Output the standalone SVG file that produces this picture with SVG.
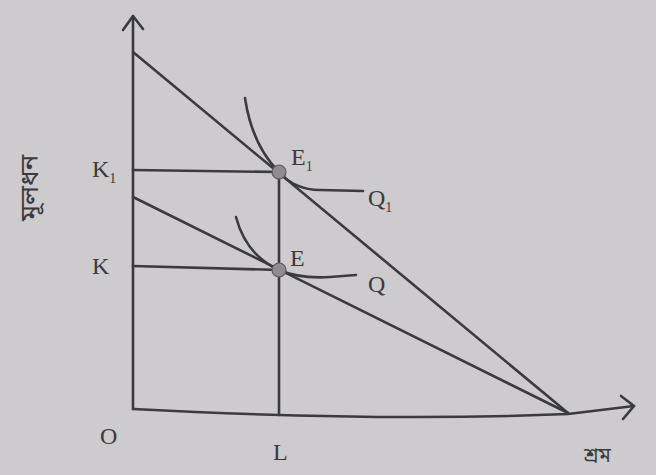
<svg xmlns="http://www.w3.org/2000/svg" width="656" height="475" viewBox="0 0 656 475">
<style>
.ln{fill:none;stroke:#3b3a3f;stroke-width:2.6;stroke-linecap:round;stroke-linejoin:round}
.t{font-family:"Liberation Serif",serif;font-size:24px;fill:#3b3a3f}
.s{font-size:14px}
.b{font-family:"Noto Sans Bengali","Noto Sans","Noto Serif Bengali",sans-serif;font-size:26px;fill:#3b3a3f}
.b2{font-family:"Noto Sans Bengali","Noto Sans","Noto Serif Bengali",sans-serif;font-size:20px;fill:#3b3a3f}
.pt{fill:#8e8c90;stroke:#5a595d;stroke-width:1.2}
</style>
<rect width="656" height="475" fill="#cdcbcd"/>
<g id="connectors">
<path class="ln" d="M133,409 L133,16"/>
<path class="ln" d="M123,30 L133,16 L143,29"/>
<path class="ln" d="M133,409 Q380,422 568,414 L634,406"/>
<path class="ln" d="M621,396 L634,406 L623,419"/>
<path class="ln" d="M133,52 L568,413"/>
<path class="ln" d="M133,197 L568,413"/>
<path class="ln" d="M133,170 L279,172"/>
<path class="ln" d="M133,266 L279,270"/>
<path class="ln" d="M279,172 L279,415"/>
<path class="ln" d="M245,98 Q252,145 279,172 Q295,190 320,190 L363,191"/>
<path class="ln" d="M236,217 Q246,255 279,270 Q300,279 330,277 L356,275"/>
</g>
<g id="E1"><circle class="pt" cx="279" cy="172" r="7"/><text class="t" x="291" y="165">E<tspan class="s" dy="6">1</tspan></text></g>
<g id="E"><circle class="pt" cx="279" cy="270" r="7"/><text class="t" x="290" y="266">E</text></g>
<g id="Q1"><text class="t" x="368" y="206">Q<tspan class="s" dy="6">1</tspan></text></g>
<g id="Q"><text class="t" x="368" y="292">Q</text></g>
<g id="K1"><text class="t" x="92" y="177">K<tspan class="s" dy="6">1</tspan></text></g>
<g id="K"><text class="t" x="92" y="274">K</text></g>
<g id="O"><text class="t" x="100" y="444">O</text></g>
<g id="L"><text class="t" x="273" y="460">L</text></g>
<g id="ylabel"><text class="b" transform="translate(38,188) rotate(-90)" text-anchor="middle">মূলধন</text></g>
<g id="xlabel"><text class="b2" x="584" y="462">শ্রম</text></g>
</svg>
